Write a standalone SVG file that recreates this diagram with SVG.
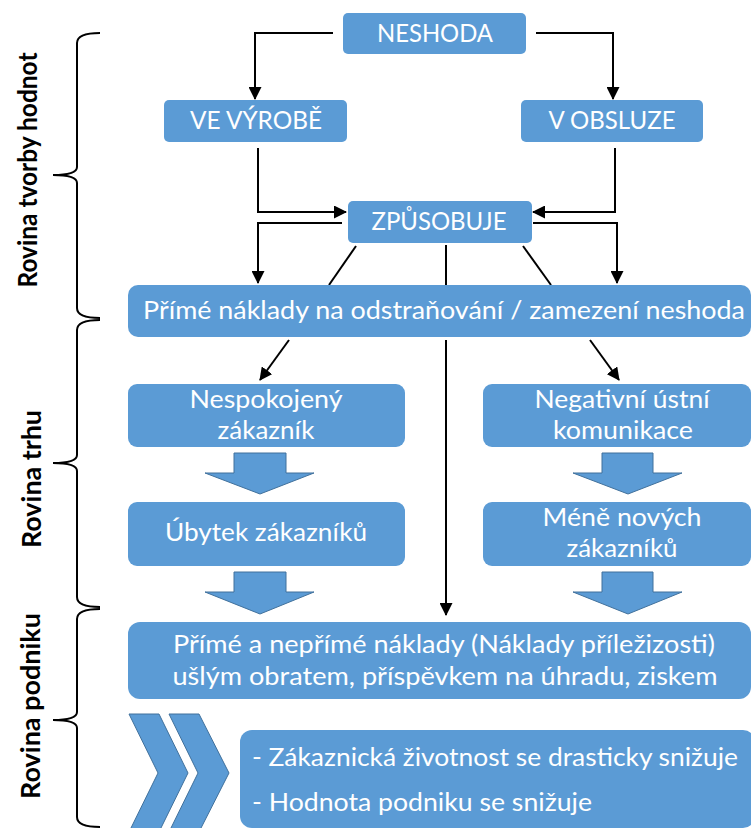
<svg xmlns="http://www.w3.org/2000/svg" width="751" height="828" viewBox="0 0 751 828">
<defs>
<style>
.box{fill:#5B9BD5;}
.blk{fill:#5B9BD5;stroke:#41719C;stroke-width:1;}
.t{fill:#ffffff;font-family:Lato,"Open Sans","Noto Sans",sans-serif;font-size:25px;text-anchor:middle;}
.tl{fill:#ffffff;font-family:Lato,"Open Sans","Noto Sans",sans-serif;font-size:25px;text-anchor:start;}
.lab{fill:#000000;font-family:Lato,"Open Sans","Noto Sans",sans-serif;font-size:27px;font-weight:bold;text-anchor:middle;}
.ln{fill:none;stroke:#000000;stroke-width:2;}
.ar{fill:none;stroke:#000000;stroke-width:2;marker-end:url(#ah);}
.br{fill:none;stroke:#000000;stroke-width:2;}
</style>
<marker id="ah" markerUnits="userSpaceOnUse" markerWidth="13" markerHeight="13" refX="12" refY="6.5" orient="auto">
<path d="M0,0 L13,6.5 L0,13 z" fill="#000000"/>
</marker>
</defs>
<rect width="751" height="828" fill="#ffffff"/>

<g id="braces">
<path class="br" d="M100,33 Q77,33 77,43 L77,167 Q77,175 53,175 Q77,175 77,183 L77,308 Q77,318 100,318"/>
<path class="br" d="M100,320 Q77,320 77,330 L77,455 Q77,463 53,463 Q77,463 77,471 L77,597 Q77,607 100,607"/>
<path class="br" d="M100,609 Q77,609 77,619 L77,712 Q77,720 53,720 Q77,720 77,728 L77,817 Q77,827 100,827"/>
</g>

<g id="labels">
<text class="lab" x="37" y="170" transform="rotate(-90 37 170)" textLength="235" lengthAdjust="spacingAndGlyphs">Rovina tvorby hodnot</text>
<text class="lab" x="41" y="479" transform="rotate(-90 41 479)" textLength="138" lengthAdjust="spacingAndGlyphs">Rovina trhu</text>
<text class="lab" x="40" y="706" transform="rotate(-90 40 706)" textLength="186" lengthAdjust="spacingAndGlyphs">Rovina podniku</text>
</g>

<g id="connectors">
<path class="ar" d="M333,33 H255 V99"/>
<path class="ar" d="M536,33 H613 V99"/>
<path class="ar" d="M258,148 V212 H346"/>
<path class="ar" d="M615,148 V212 H533"/>
<path class="ar" d="M342,223 H258 V283"/>
<path class="ar" d="M533,223 H617 V283"/>
<path class="ln" d="M356,246 L329,285"/>
<path class="ln" d="M523,246 L551,285"/>
<path class="ln" d="M446,245 V285"/>
<path class="ar" d="M446,340 V615"/>
<path class="ar" d="M289,340 L260,380"/>
<path class="ar" d="M590,340 L619,380"/>
</g>

<g id="block-arrows">
<polygon class="blk" points="234,453 286,453 286,473 314,473 260,494 205,473 234,473"/>
<polygon class="blk" points="234,572 286,572 286,592 314,592 260,614 205,592 234,592"/>
<polygon class="blk" points="602,453 653,453 653,473 682,473 628,494 573,473 602,473"/>
<polygon class="blk" points="602,572 653,572 653,592 682,592 628,614 573,592 602,592"/>
</g>

<g id="chevrons">
<polygon class="blk" points="129,714 159,714 188,773 159,832 129,832 158,773"/>
<polygon class="blk" points="169,714 199,714 229,773 199,832 169,832 198,773"/>
</g>

<g id="n-neshoda">
<rect class="box" x="343" y="13" width="183" height="41" rx="5"/>
<text class="t" x="435" y="42" textLength="116" lengthAdjust="spacingAndGlyphs">NESHODA</text>
</g>
<g id="n-vyrobe">
<rect class="box" x="164" y="100" width="183" height="42" rx="5"/>
<text class="t" x="256" y="129" textLength="132" lengthAdjust="spacingAndGlyphs">VE VÝROBĚ</text>
</g>
<g id="n-obsluze">
<rect class="box" x="521" y="100" width="182" height="42" rx="5"/>
<text class="t" x="612" y="129" textLength="127" lengthAdjust="spacingAndGlyphs">V OBSLUZE</text>
</g>
<g id="n-zpusobuje">
<rect class="box" x="348" y="201" width="184" height="42" rx="5"/>
<text class="t" x="439" y="230" textLength="135" lengthAdjust="spacingAndGlyphs">ZPŮSOBUJE</text>
</g>
<g id="n-prime">
<rect class="box" x="128" y="285" width="623" height="52" rx="10"/>
<text class="tl" x="143" y="319" textLength="602" lengthAdjust="spacingAndGlyphs">Přímé náklady na odstraňování / zamezení neshoda</text>
</g>
<g id="n-nespokojeny">
<rect class="box" x="128" y="384" width="277" height="63" rx="9"/>
<text class="t" x="266" y="408" textLength="153" lengthAdjust="spacingAndGlyphs">Nespokojený</text>
<text class="t" x="266" y="439" textLength="97" lengthAdjust="spacingAndGlyphs">zákazník</text>
</g>
<g id="n-negativni">
<rect class="box" x="483" y="384" width="268" height="63" rx="9"/>
<text class="t" x="622" y="408" textLength="175" lengthAdjust="spacingAndGlyphs">Negativní ústní</text>
<text class="t" x="623" y="439" textLength="140" lengthAdjust="spacingAndGlyphs">komunikace</text>
</g>
<g id="n-ubytek">
<rect class="box" x="128" y="502" width="277" height="64" rx="9"/>
<text class="t" x="266" y="541" textLength="202" lengthAdjust="spacingAndGlyphs">Úbytek zákazníků</text>
</g>
<g id="n-mene">
<rect class="box" x="483" y="502" width="268" height="64" rx="9"/>
<text class="t" x="622" y="526" textLength="159" lengthAdjust="spacingAndGlyphs">Méně nových</text>
<text class="t" x="622" y="557" textLength="111" lengthAdjust="spacingAndGlyphs">zákazníků</text>
</g>
<g id="n-neprime">
<rect class="box" x="128" y="622" width="623" height="77" rx="12"/>
<text class="t" x="444" y="653" textLength="542" lengthAdjust="spacingAndGlyphs">Přímé a nepřímé náklady (Náklady příležizosti)</text>
<text class="t" x="445" y="685" textLength="545" lengthAdjust="spacingAndGlyphs">ušlým obratem, příspěvkem na úhradu, ziskem</text>
</g>
<g id="n-dopady">
<rect class="box" x="240" y="730" width="515" height="98" rx="12"/>
<text class="tl" x="252" y="766" textLength="486" lengthAdjust="spacingAndGlyphs">- Zákaznická životnost se drasticky snižuje</text>
<text class="tl" x="252" y="811" textLength="340" lengthAdjust="spacingAndGlyphs">- Hodnota podniku se snižuje</text>
</g>
</svg>
